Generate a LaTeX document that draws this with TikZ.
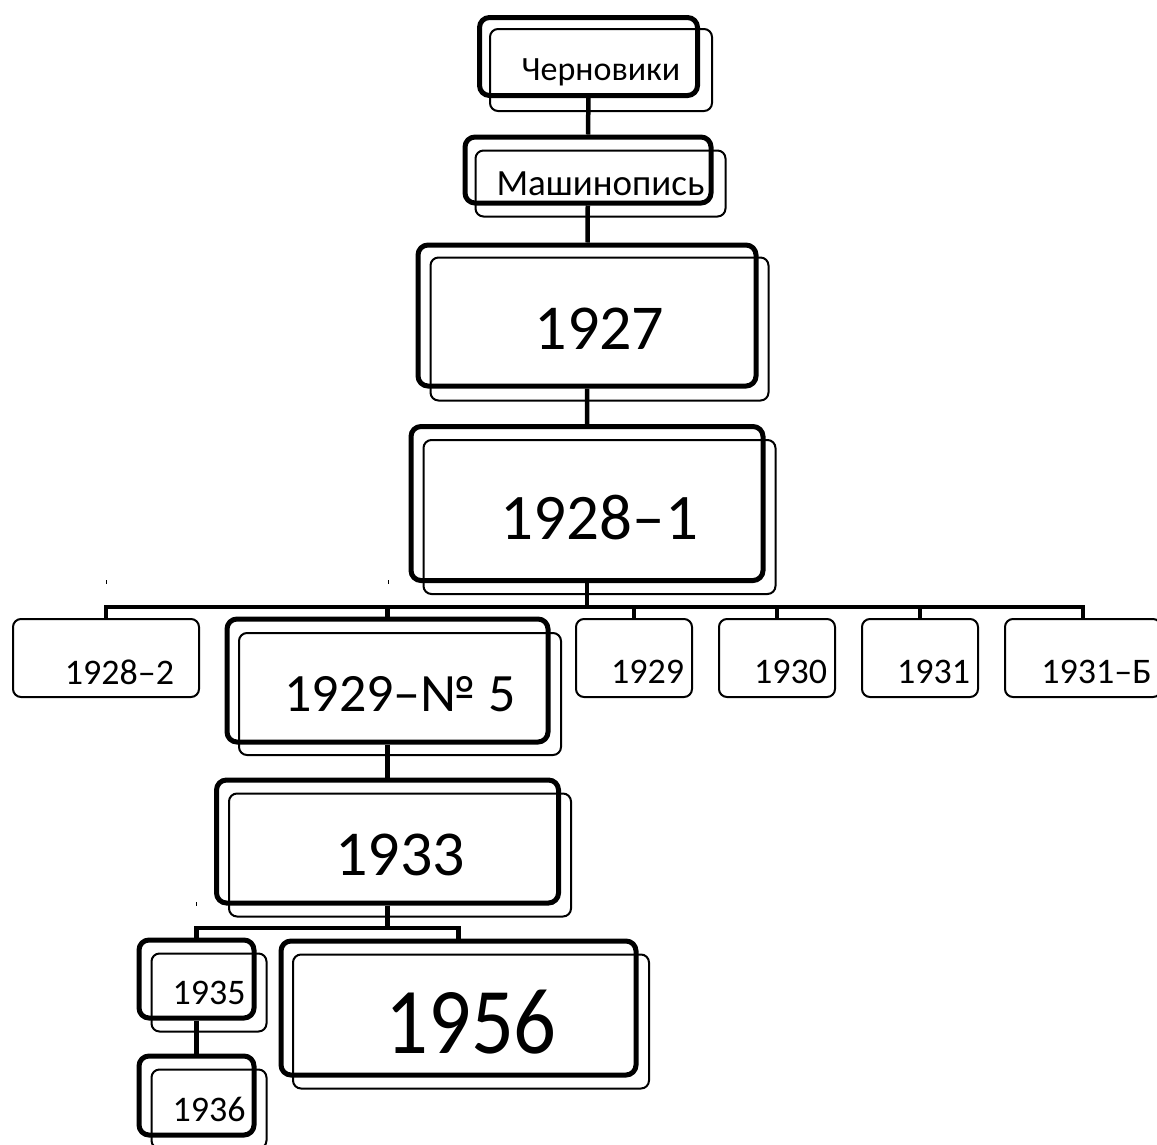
\documentclass[tikz,border=0pt]{standalone}
\usepackage{fontspec}
\setmainfont{Carlito}

\tikzset{
	sz/.style={font=\fontsize{#1}{#1}\selectfont},
	box/.style={draw, line width=2pt, rounded corners=8pt, inner sep=0pt, text depth=0pt},
	bold box/.style={draw, line width=5pt, rounded corners=10pt, inner sep=0pt},
	inner/.style={shift={(12.5,13.5)}},
	caption/.style={sz=36, inner sep=0pt, text depth=0pt, xshift=13.5pt, yshift=-14pt},
	link/.style={line width=4.5pt},
	tick/.style={line width=1pt}
}

\begin{document}
\begin{tikzpicture}[x=1pt,y=-1pt]
	\useasboundingbox (0,0) rectangle (1157,1144);
	% main line
	\node[bold box, minimum width=218pt, minimum height=78pt] (chern) at (588.5,56.5) {};
	\node[box, sz=34, minimum width=222pt, minimum height=82pt] (chern-s) at ([inner]chern.center) {Черновики};
	\node[bold box, minimum width=246pt, minimum height=66pt] (mash) at (588,170) {};
	\node[box, sz=37, minimum width=250pt, minimum height=66pt] (mash-s) at ([inner]mash.center) {Машинопись};
	\node[bold box, minimum width=338pt, minimum height=141pt] (y1927) at (587,315.5) {};
	\node[box, sz=64, minimum width=338pt, minimum height=143pt] (y1927-s) at ([inner]y1927.center) {1927};
	\node[bold box, minimum width=352pt, minimum height=154pt] (y1928a) at (587,503.5) {};
	\node[box, sz=65, minimum width=352pt, minimum height=154pt] (y1928a-s) at ([inner]y1928a.center) {1928–1};
	% second row
	\node[box, minimum width=186pt, minimum height=78pt, label={[caption]center:1928–2}] (y1928b) at (106,658) {};
	\node[bold box, minimum width=321pt, minimum height=123pt] (y1929n) at (387.5,680.5) {};
	\node[box, sz=54, minimum width=322pt, minimum height=122pt] (y1929n-s) at ([inner]y1929n.center) {1929–№ 5};
	\node[box, minimum width=116pt, minimum height=78pt, label={[caption]center:1929}] (y1929) at (634,658) {};
	\node[box, minimum width=116pt, minimum height=78pt, label={[caption]center:1930}] (y1930) at (777,658) {};
	\node[box, minimum width=116pt, minimum height=78pt, label={[caption]center:1931}] (y1931) at (920,658) {};
	\node[box, minimum width=156pt, minimum height=78pt, label={[caption]center:1931–Б}] (y1931b) at (1083,658) {};
	% lower part
	\node[bold box, minimum width=342pt, minimum height=123pt] (y1933) at (387.5,841.5) {};
	\node[box, sz=64, minimum width=342pt, minimum height=123pt] (y1933-s) at ([inner]y1933.center) {1933};
	\node[bold box, minimum width=115pt, minimum height=78pt] (y1935) at (196.5,979) {};
	\node[box, sz=36, minimum width=115pt, minimum height=78pt] (y1935-s) at ([inner]y1935.center) {1935};
	\node[bold box, minimum width=115pt, minimum height=79pt] (y1936) at (196.5,1095.5) {};
	\node[box, sz=36, minimum width=115pt, minimum height=79pt] (y1936-s) at ([inner]y1936.center) {1936};
	\node[bold box, minimum width=355pt, minimum height=134pt] (y1956) at (458.5,1008) {};
	\node[box, sz=94, minimum width=356pt, minimum height=134pt] (y1956-s) at ([inner]y1956.center) {\scalebox{0.9}[1]{1956}};

	\coordinate (bus1) at (0,607);
	\coordinate (bus2) at (0,928);
	\draw[link] (chern) -- (mash) (mash) -- (y1927) (y1927) -- (y1928a);
	\foreach \n in {y1928b,y1929n,y1929,y1930,y1931,y1931b}
		\draw[link] (y1928a.south) |- (bus1 -| \n.north) -- (\n.north);
	\draw[link] (y1929n) -- (y1933);
	\foreach \n in {y1935,y1956}
		\draw[link] (y1933.south) |- (bus2 -| \n.north) -- (\n.north);
	\draw[link] (y1935) -- (y1936);
	% stray marks
	\draw[tick] (106,580) -- (106,584) (388,580) -- (388,584) (196,902) -- (196,906);
\end{tikzpicture}
\end{document}
